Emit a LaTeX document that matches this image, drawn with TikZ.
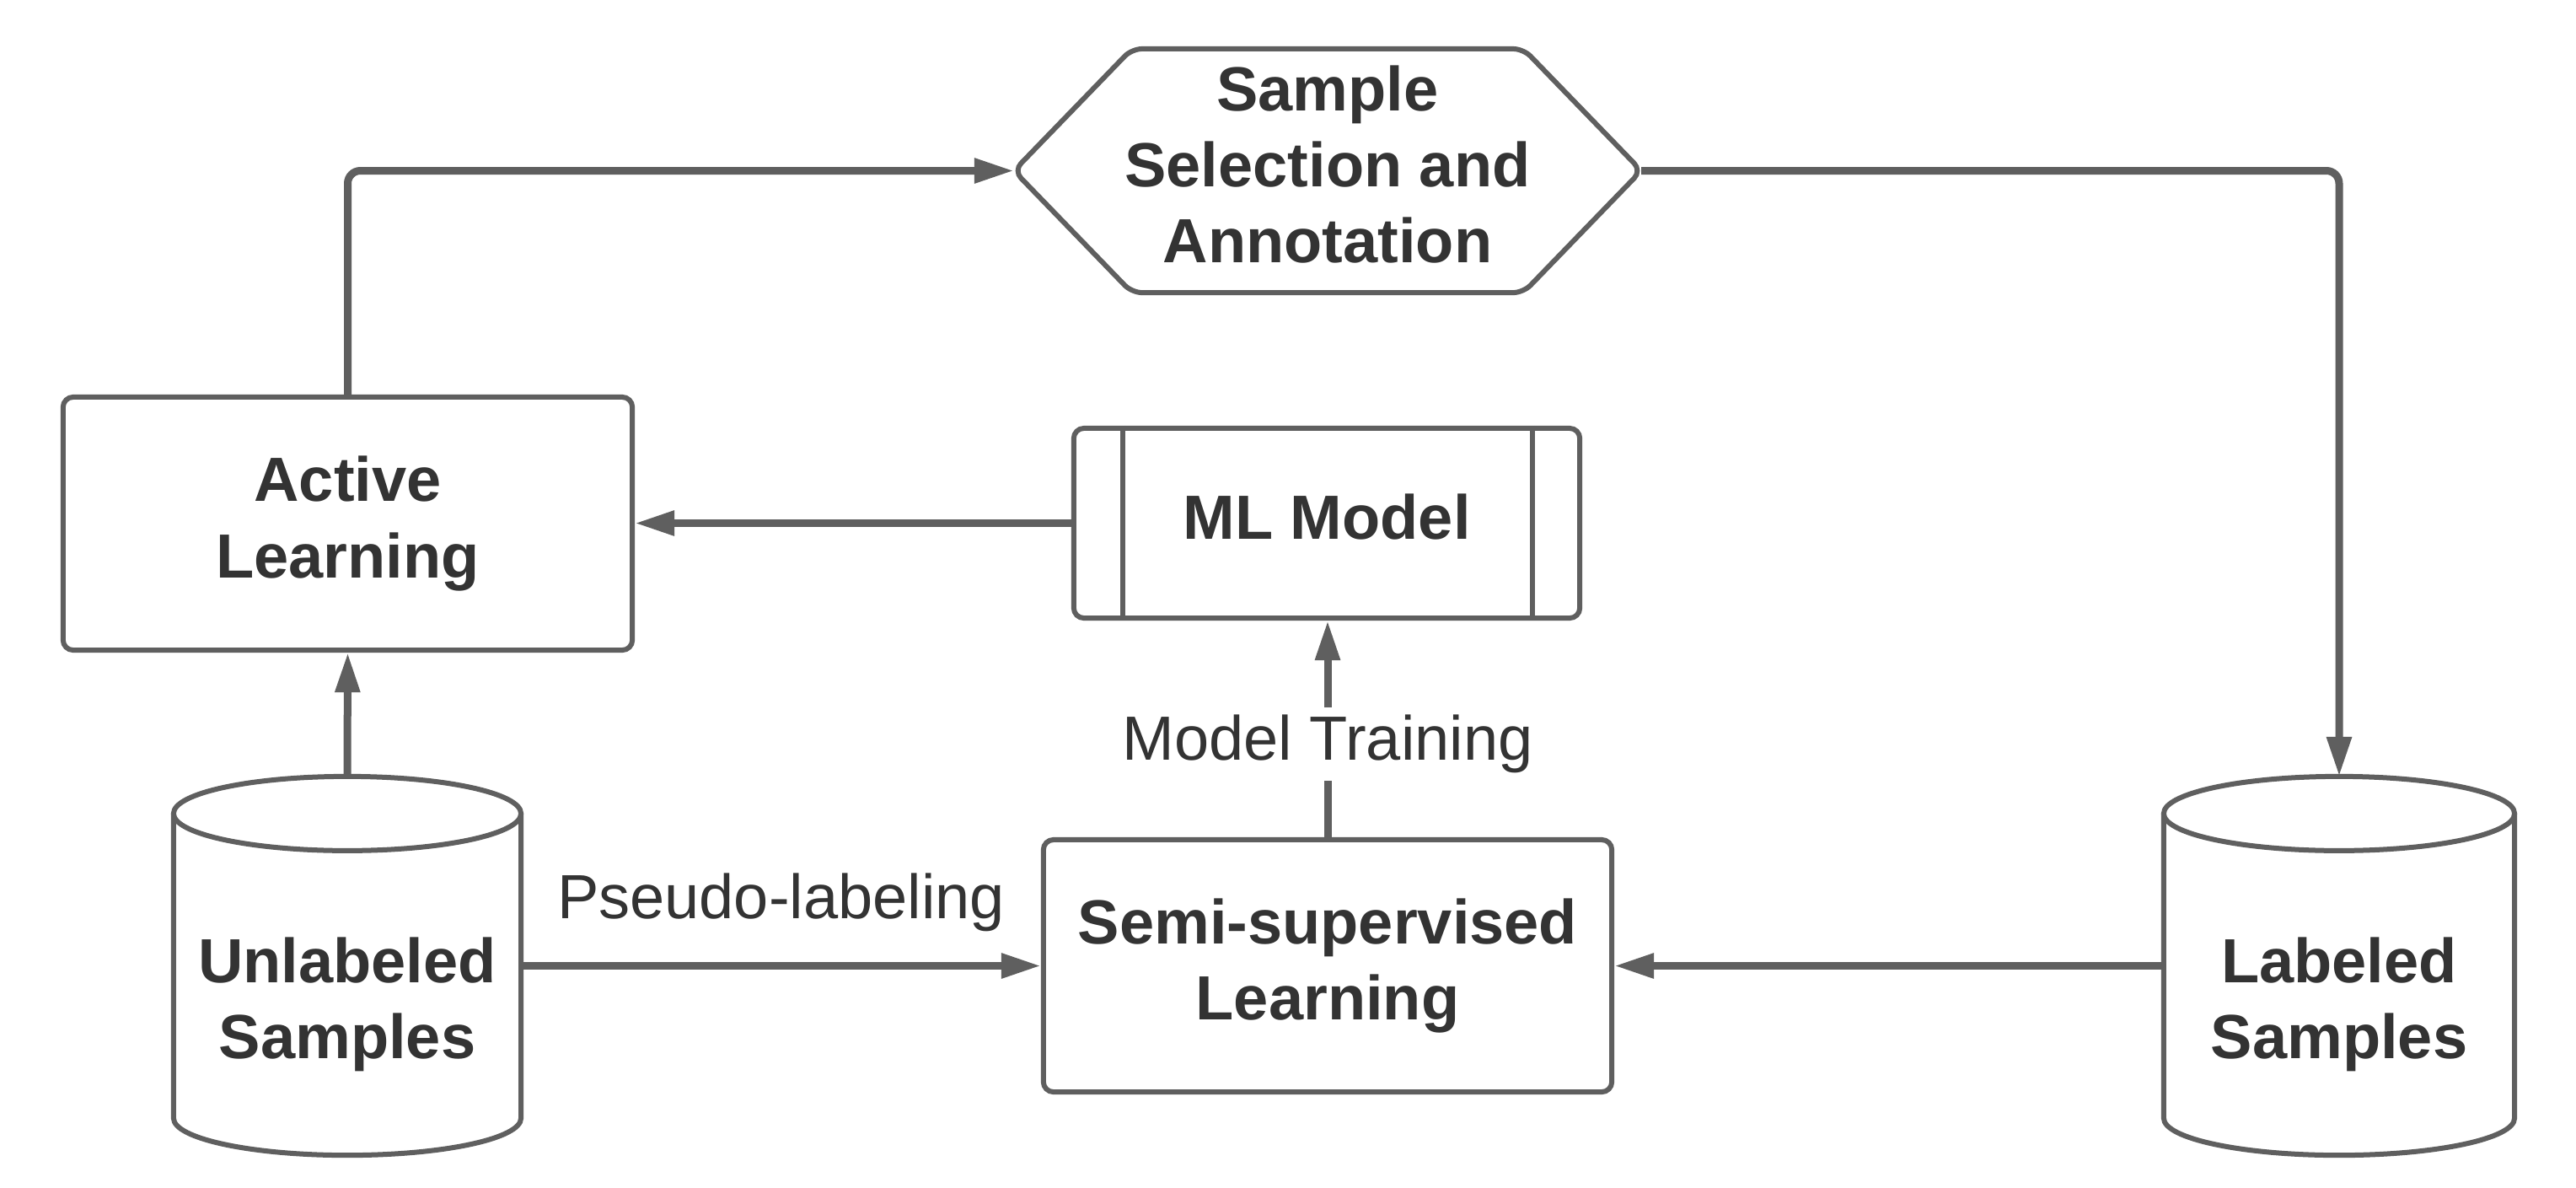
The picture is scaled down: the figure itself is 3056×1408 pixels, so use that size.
\documentclass[tikz,border=0pt]{standalone}
\usepackage{fontspec}
\setmainfont{Liberation Sans}
\usetikzlibrary{arrows.meta,calc}
\definecolor{ln}{HTML}{5F5F5F}
\definecolor{txt}{HTML}{333333}
\begin{document}
\begin{tikzpicture}[x=0.01cm,y=0.01cm,
 boxtxt/.style={font=\fontsize{21.05}{25.6}\selectfont\bfseries, text=txt, align=center},
 lbltxt/.style={font=\fontsize{21.05}{25.6}\selectfont, text=txt},
 procbox/.style={boxtxt, draw=ln, line width=0.06cm, rounded corners=0.12cm, fill=white},
 shp/.style={draw=ln, line width=0.06cm},
 conn/.style={draw=ln, line width=0.09cm, -{Triangle[length=0.47cm,width=0.28cm]}, rounded corners=0.15cm},
 frame/.style={boxtxt, inner sep=0pt, outer sep=0pt}
]
\fill[white] (0,0) rectangle (3056,-1408);
\useasboundingbox (0,0) rectangle (3056,-1408);

% process boxes
\node[procbox, minimum width=6.75cm, minimum height=3cm] (act) at (412.5,-621) {Active\\Learning};
\node[procbox, minimum width=6.74cm, minimum height=2.99cm] (semi) at (1575,-1145.5) {Semi-supervised\\Learning};
\node[procbox, minimum width=6cm, minimum height=2.25cm] (ml) at (1574,-620.5) {ML Model\vphantom{g}};
\draw[shp] ($(ml.north west)+(61,0)$) -- ($(ml.south west)+(61,0)$);
\draw[shp] ($(ml.north east)+(-59,0)$) -- ($(ml.south east)+(-59,0)$);

% hexagon
\node[frame, minimum width=7.44cm, minimum height=2.89cm] (hex) at (1575,-202.5) {Sample\\Selection and\\Annotation\vphantom{g}};
\draw[shp, rounded corners=0.12cm] (hex.west) -- ($(hex.north west)+(140,0)$) -- ($(hex.north east)+(-140,0)$) -- (hex.east) -- ($(hex.south east)+(-140,0)$) -- ($(hex.south west)+(140,0)$) -- cycle;

% cylinders
\node[frame, minimum width=4.12cm, minimum height=4.49cm] (unl) at (412,-1145.5) {};
\draw[shp, fill=white] ($(unl.north west)+(0,-44)$) -- ($(unl.south west)+(0,44)$) arc[start angle=180, end angle=360, x radius=2.06cm, y radius=0.44cm] -- ($(unl.north east)+(0,-44)$);
\draw[shp] ($(unl.north)+(0,-44)$) ellipse [x radius=2.06cm, y radius=0.44cm];
\node[boxtxt] (unltxt) at (412,-1191) {Unlabeled\\Samples};

\node[frame, minimum width=4.16cm, minimum height=4.49cm] (lab) at (2775,-1145.5) {};
\draw[shp, fill=white] ($(lab.north west)+(0,-44)$) -- ($(lab.south west)+(0,44)$) arc[start angle=180, end angle=360, x radius=2.08cm, y radius=0.44cm] -- ($(lab.north east)+(0,-44)$);
\draw[shp] ($(lab.north)+(0,-44)$) ellipse [x radius=2.08cm, y radius=0.44cm];
\node[boxtxt] (labtxt) at (2775,-1191) {Labeled\\Samples};

% connectors
\draw[conn] (act.north) |- (hex.west);
\draw[conn] (hex.east) -| (lab.north);
\draw[conn] (ml.west) -- (act.east |- ml.west);
\draw[conn] (unl.north) -- (act.south);
\draw[conn] (semi.north) -- node[lbltxt, fill=white, inner sep=0.09cm, pos=0.43, rounded corners=0pt] (mt) {Model Training} (semi.north |- ml.south);
\draw[conn] (unl.east) -- node[lbltxt, midway, anchor=base, yshift=0.56cm] (pl) {Pseudo-labeling} (semi.west);
\draw[conn] (lab.west) -- (semi.east);
\end{tikzpicture}
\end{document}
